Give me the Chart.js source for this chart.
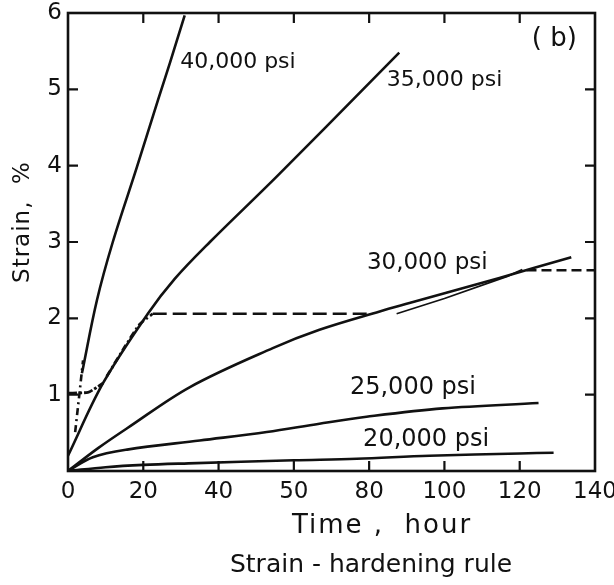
<!DOCTYPE html>
<html>
<head>
<meta charset="utf-8">
<script src="https://cdn.jsdelivr.net/npm/chart.js@4.4.1/dist/chart.umd.min.js"></script>
<style>
  html, body { margin: 0; padding: 0; background: #ffffff; }
  canvas { display: block; }
</style>
</head>
<body>
<canvas id="c" width="614" height="585"></canvas>
<script>
// ---- tick labels ----
const xTickValues = [0, 20, 40, 60, 80, 100, 120, 140];
const xTickLabels = ['0', '20', '40', '50', '80', '100', '120', '140'];
const yTickValues = [0, 1, 2, 3, 4, 5, 6];
const yTickLabels = ['', '1', '2', '3', '4', '5', '6'];

// ---- creep curves (time in hours, strain in %) ----
const hours40k  = [3.7, 7.7, 11.9, 18.3, 23.9, 27.1, 31.0];
const strain40k = [1.28, 2.24, 3.0, 3.98, 4.86, 5.35, 5.97];

const hours35k  = [0, 9.3, 21.2, 28.4, 37.7, 55.5, 80.8, 88.0];
const strain35k = [0.2, 1.15, 2.06, 2.52, 3.0, 3.86, 5.12, 5.48];

const hours30k  = [0, 8, 15.7, 32.4, 54.4, 66.8, 82.8, 90.7, 114.6, 133.7];
const strain30k = [0, 0.3, 0.56, 1.1, 1.61, 1.85, 2.09, 2.2, 2.53, 2.8];

const hours25k  = [0, 6.6, 15.7, 35, 52.8, 66.8, 79.3, 99.5, 125];
const strain25k = [0, 0.18, 0.28, 0.4, 0.51, 0.62, 0.71, 0.82, 0.89];

const hours20k  = [0, 10, 20, 32, 60, 76.7, 96, 120, 129];
const strain20k = [0, 0.05, 0.08, 0.1, 0.14, 0.16, 0.2, 0.23, 0.24];

// ---- strain-hardening prediction segments ----
const hoursSH1  = [1.9, 2.9, 4.0];          // dash-dot, below 40,000 psi curve
const strainSH1 = [0.51, 0.95, 1.45];
const hoursSH2  = [0, 5.3, 7.5, 9.3];       // short step at 1 %
const strainSH2 = [1.02, 1.03, 1.09, 1.15];
const hoursSH3  = [10.3, 15, 19, 22.5];     // dash-dot along 35,000 psi curve
const strainSH3 = [1.24, 1.62, 1.92, 2.06];
const hoursSH4  = [22.5, 81];               // dashed plateau
const strainSH4 = [2.06, 2.06];
const hoursSH5  = [87.3, 100, 116.7, 120.7];// thin solid near 30,000 psi curve
const strainSH5 = [2.06, 2.26, 2.55, 2.64];
const hoursSH6  = [121.8, 140];             // dashed plateau
const strainSH6 = [2.63, 2.63];

// ---- labels ----
const curveLabels = ['40,000 psi', '35,000 psi', '30,000 psi', '25,000 psi', '20,000 psi'];
const panelLabel = '( b)';
const xTitle = 'Time ,  hour';
const subTitle = 'Strain - hardening rule';
const yTitle = 'Strain,  %';

const FONT = '"DejaVu Sans", sans-serif';

function pts(xs, ys) { return xs.map((x, i) => ({ x: x, y: ys[i] })); }

function curve(xs, ys, opts) {
  return Object.assign({
    data: pts(xs, ys),
    showLine: true,
    borderColor: '#111111',
    borderWidth: 2.6,
    pointRadius: 0,
    fill: false,
    tension: 0.35
  }, opts || {});
}

const datasets = [
  curve(hours40k, strain40k),
  curve(hours35k, strain35k),
  curve(hours30k, strain30k),
  curve(hours25k, strain25k),
  curve(hours20k, strain20k),
  curve(hoursSH1, strainSH1, { borderDash: [7, 4, 2, 4], tension: 0 }),
  curve(hoursSH2, strainSH2, { borderDash: [9, 2, 3, 2], borderWidth: 2.8, tension: 0.2 }),
  curve(hoursSH3, strainSH3, { borderDash: [7, 3, 2, 3], borderWidth: 2.8, tension: 0.2 }),
  curve(hoursSH4, strainSH4, { borderDash: [14, 6], borderWidth: 2.6, tension: 0 }),
  curve(hoursSH5, strainSH5, { borderWidth: 1.8, tension: 0 }),
  curve(hoursSH6, strainSH6, { borderDash: [10, 5], borderWidth: 2.6, tension: 0 })
];

// label anchor positions in data coordinates (left edge, vertical middle)
const labelPos = [
  { x: 29.8, y: 5.35, size: 22 },
  { x: 84.7, y: 5.12, size: 22 },
  { x: 79.4, y: 2.72, size: 23 },
  { x: 74.9, y: 1.09, size: 24 },
  { x: 78.4, y: 0.41, size: 24 }
];

const framePlugin = {
  id: 'frame',
  afterDraw(chart) {
    const ctx = chart.ctx;
    const a = chart.chartArea;
    const xs = chart.scales.x, ys = chart.scales.y;
    ctx.save();
    ctx.strokeStyle = '#111111';
    ctx.lineWidth = 2.6;
    ctx.strokeRect(a.left, a.top, a.right - a.left, a.bottom - a.top);
    ctx.lineWidth = 2.2;
    const tl = 10;
    xs.ticks.forEach(t => {
      if (t.value <= xs.min || t.value >= xs.max) return;
      const px = xs.getPixelForValue(t.value);
      ctx.beginPath();
      ctx.moveTo(px, a.bottom); ctx.lineTo(px, a.bottom - tl);
      ctx.moveTo(px, a.top); ctx.lineTo(px, a.top + tl);
      ctx.stroke();
    });
    ys.ticks.forEach(t => {
      if (t.value <= ys.min || t.value >= ys.max) return;
      const py = ys.getPixelForValue(t.value);
      ctx.beginPath();
      ctx.moveTo(a.left, py); ctx.lineTo(a.left + tl, py);
      ctx.moveTo(a.right, py); ctx.lineTo(a.right - tl, py);
      ctx.stroke();
    });

    // curve labels
    ctx.fillStyle = '#111111';
    ctx.textAlign = 'left';
    ctx.textBaseline = 'middle';
    curveLabels.forEach((txt, i) => {
      const p = labelPos[i];
      ctx.font = p.size + 'px ' + FONT;
      ctx.fillText(txt, xs.getPixelForValue(p.x), ys.getPixelForValue(p.y));
    });
    ctx.font = '26px ' + FONT;
    ctx.fillText(panelLabel, xs.getPixelForValue(123.2), ys.getPixelForValue(5.65));

    // axis titles
    ctx.textAlign = 'center';
    ctx.font = '26px ' + FONT;
    ctx.letterSpacing = '2px';
    ctx.fillText(xTitle, 382, 526);
    ctx.letterSpacing = '0px';
    ctx.font = '25px ' + FONT;
    ctx.fillText(subTitle, 371, 565);
    ctx.save();
    ctx.translate(23, 222);
    ctx.rotate(-Math.PI / 2);
    ctx.font = '23px ' + FONT;
    ctx.letterSpacing = '1px';
    ctx.fillText(yTitle, 0, 0);
    ctx.restore();
    ctx.restore();
  }
};

function zeroPad(s) { s.paddingLeft = 0; s.paddingRight = 0; s.paddingTop = 0; s.paddingBottom = 0; }

new Chart(document.getElementById('c'), {
  type: 'scatter',
  data: { datasets: datasets },
  options: {
    responsive: false,
    animation: false,
    layout: { padding: { left: 0, top: 13, right: 19, bottom: 0 } },
    plugins: { legend: { display: false }, tooltip: { enabled: false } },
    scales: {
      x: {
        type: 'linear', min: 0, max: 140,
        afterBuildTicks: s => { s.ticks = xTickValues.map(v => ({ value: v })); },
        afterFit: s => { s.height = 114; zeroPad(s); },
        grid: { display: false, drawTicks: false },
        border: { display: false },
        ticks: {
          autoSkip: false, maxRotation: 0, padding: 7,
          color: '#111111', font: { family: FONT, size: 23 },
          callback: (v) => xTickLabels[xTickValues.indexOf(v)]
        }
      },
      y: {
        type: 'linear', min: 0, max: 6,
        afterBuildTicks: s => { s.ticks = yTickValues.map(v => ({ value: v })); },
        afterFit: s => { s.width = 68; zeroPad(s); },
        grid: { display: false, drawTicks: false },
        border: { display: false },
        ticks: {
          autoSkip: false, padding: 6,
          color: '#111111', font: { family: FONT, size: 23 },
          callback: (v) => yTickLabels[yTickValues.indexOf(v)]
        }
      }
    }
  },
  plugins: [framePlugin]
});
</script>
</body>
</html>
